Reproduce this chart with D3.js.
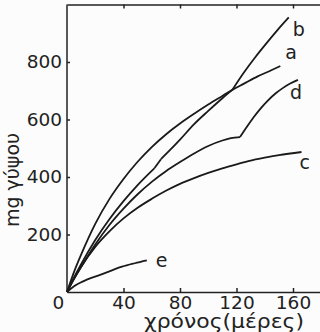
<!DOCTYPE html>
<html lang="el">
<head>
  <meta charset="UTF-8">
  <title>γύψος</title>
  <script src="https://d3js.org/d3.v7.min.js"></script>
</head>
<style>
  body { margin: 0; background: #fbfcfb; }
  svg { display: block; }
  .axis path, .axis line { stroke: #222; stroke-width: 1.5px; }
  .axis text { font-family: "DejaVu Sans", sans-serif; font-size: 18.5px; fill: #222; }
  .curve { fill: none; stroke: #1a1a1a; stroke-width: 1.8px; stroke-linejoin: round; }
  .lbl { font-family: "DejaVu Sans", sans-serif; font-size: 19px; fill: #222; }
</style>
<body>
<div id="chart"></div>
<script>
  // readings: [days, mg]
  var curveA = [[0,0],[5,70],[10,130],[20,237],[30,323],[40,393],[50,453],[60,504],[70,548],[80,586],[90,620],[100,652],[110,682],[117,703],[125,724],[135,750],[145,772],[151,786]];
  var curveB = [[0,0],[5,51],[10,97],[20,181],[30,253],[40,316],[50,372],[62,431],[66.5,462],[73,494],[80,530],[90,584],[100,630],[110,674],[117,703],[125,762],[133,815],[141,864],[149,911],[157,955]];
  var curveC = [[0,0],[5,47],[10,88],[20,157],[30,211],[40,256],[50,293],[60,324],[70,352],[80,376],[90,396],[100,414],[110,430],[120,444],[130,457],[140,467],[150,476],[166,487]];
  var curveD = [[0,0],[5,46],[10,87],[20,165],[30,233],[40,290],[50,340],[60,383],[70,420],[80,452],[90,482],[100,508],[110,527],[116,535],[122.5,539],[127,572],[132,607],[137,638],[142,665],[148,692],[153,710],[158,725],[163.5,738]];
  var curveE = [[0,0],[5,20],[11,36],[23,59],[30,72],[39,88],[48,100],[56.5,110]];
  // x values where a line bends sharply
  var kinksB = [62, 66.5, 117];
  var kinksD = [122.5];

  var xTicks = [0, 40, 80, 120, 160];
  var yTicks = [200, 400, 600, 800];

  var width = 320, height = 332;
  var x = d3.scaleLinear().domain([0, 180]).range([67, 321.25]);
  var y = d3.scaleLinear().domain([0, 1000]).range([292, 4.5]);

  var svg = d3.select('#chart').append('svg')
    .attr('width', width).attr('height', height);

  // bottom axis, ticks pointing up into the plot
  svg.append('g').attr('class', 'axis')
    .attr('transform', 'translate(0,' + y(0) + ')')
    .call(d3.axisBottom(x).tickValues(xTicks).tickSizeInner(-4).tickSizeOuter(0).tickPadding(4))
    .call(function (g) {
      var zero = g.selectAll('.tick').filter(function (d) { return d === 0; });
      zero.select('text').attr('dx', -9);
      zero.select('line').remove();
    });

  // top border with inner ticks
  svg.append('g').attr('class', 'axis')
    .attr('transform', 'translate(0,' + y(1000) + ')')
    .call(d3.axisTop(x).tickValues(xTicks.slice(1)).tickSizeInner(-4).tickSizeOuter(0).tickFormat(''));

  // left axis
  svg.append('g').attr('class', 'axis')
    .attr('transform', 'translate(' + x(0) + ',0)')
    .call(d3.axisLeft(y).tickValues(yTicks).tickSizeInner(-3).tickSizeOuter(0).tickPadding(5))
    .call(function (g) { g.select('.domain').attr('d', 'M0,' + y(0) + 'V' + y(1000)); });

  // axis titles
  svg.append('text').attr('class', 'lbl')
    .attr('transform', 'translate(19,180) rotate(-90)')
    .attr('text-anchor', 'middle')
    .text('mg γύψου');

  svg.append('text').attr('class', 'lbl')
    .attr('x', 224).attr('y', 328)
    .attr('text-anchor', 'middle')
    .attr('textLength', 160)
    .attr('lengthAdjust', 'spacingAndGlyphs')
    .style('font-size', '19px')
    .text('χρόνος(μέρες)');

  // split a series at its kinks so each piece is smooth but the joins stay sharp
  function pieces(pts, kinks) {
    var out = [], cur = [];
    pts.forEach(function (p) {
      cur.push(p);
      if (kinks.indexOf(p[0]) >= 0) { out.push(cur); cur = [p]; }
    });
    out.push(cur);
    return out;
  }

  var line = d3.line()
    .x(function (d) { return x(d[0]); })
    .y(function (d) { return y(d[1]); })
    .curve(d3.curveMonotoneX);

  var series = [
    { name: 'a', pts: curveA, kinks: [], dx: 5, dy: -7 },
    { name: 'b', pts: curveB, kinks: kinksB, dx: 4, dy: 19 },
    { name: 'c', pts: curveC, kinks: [], dx: -2, dy: 17 },
    { name: 'd', pts: curveD, kinks: kinksD, dx: -8, dy: 19 },
    { name: 'e', pts: curveE, kinks: [], dx: 9, dy: 7 }
  ];

  series.forEach(function (s) {
    svg.selectAll(null)
      .data(pieces(s.pts, s.kinks))
      .enter()
      .append('path')
      .attr('class', 'curve')
      .attr('d', line);

    var last = s.pts[s.pts.length - 1];
    svg.append('text').attr('class', 'lbl')
      .attr('x', x(last[0]) + s.dx)
      .attr('y', y(last[1]) + s.dy)
      .text(s.name);
  });
</script>
</body>
</html>
